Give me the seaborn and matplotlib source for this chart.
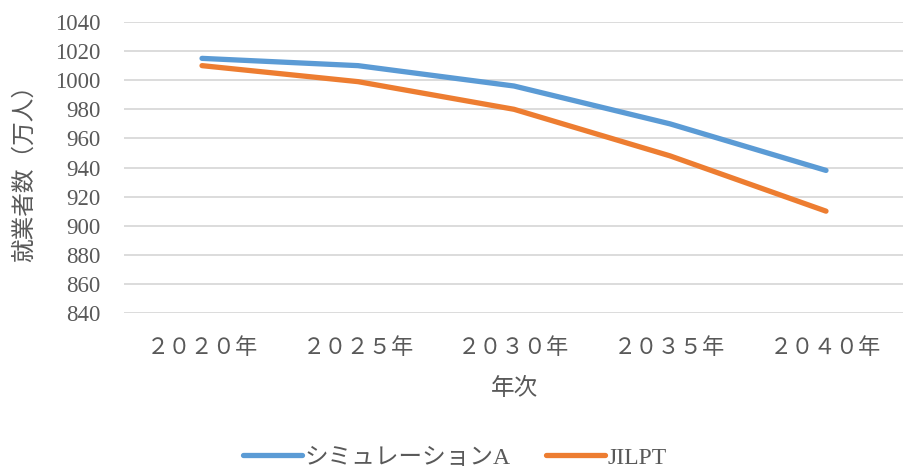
import matplotlib
matplotlib.use("Agg")
import matplotlib.pyplot as plt
import seaborn as sns
import pandas as pd
from matplotlib.lines import Line2D

years = ["２０２０年", "２０２５年", "２０３０年", "２０３５年", "２０４０年"]
sim_a = [1015, 1010, 996, 970, 938]
jilpt = [1010, 999, 980, 948, 910]
series_names = ["シミュレーションA", "JILPT"]
y_ticks = [840, 860, 880, 900, 920, 940, 960, 980, 1000, 1020, 1040]

df = pd.DataFrame({
    "年次": years * 2,
    "value": sim_a + jilpt,
    "series": [series_names[0]] * len(years) + [series_names[1]] * len(years),
})

sns.set_theme(style="white")
FAM = ["Liberation Serif", "Noto Sans CJK JP", "DejaVu Sans"]
plt.rcParams["font.family"] = FAM
TXT = "#595959"
COLORS = ["#5B9BD5", "#ED7D31"]

fig = plt.figure(figsize=(9.04, 4.76), dpi=100)
ax = fig.add_axes([0.1372, 0.3424, 0.8628, 0.6114])

sns.lineplot(data=df, x="年次", y="value", hue="series",
             palette=COLORS, linewidth=3.8, ax=ax,
             legend=False, sort=False)
for ln in ax.lines:
    ln.set_solid_capstyle("round")
    ln.set_solid_joinstyle("round")

ax.set_xlim(-0.5, len(years) - 0.5)
ax.set_ylim(840, 1040)
ax.set_yticks(y_ticks)
ax.set_yticklabels([str(v) for v in y_ticks], fontsize=16.5, color=TXT)
ax.set_xticks(range(len(years)))
ax.set_xticklabels(years, fontsize=16, color=TXT)
ax.tick_params(axis="y", length=0, pad=17)
ax.tick_params(axis="x", length=0, pad=18)
ax.grid(axis="y", color="#D9D9D9", linewidth=1.3)
ax.set_axisbelow(True)
for s in ax.spines.values():
    s.set_visible(False)

ax.set_xlabel("年次", fontsize=17, color=TXT, labelpad=14)
ax.set_ylabel("就業者数（万人）", fontsize=17, color=TXT)
ax.yaxis.set_label_coords(-0.113, 0.5)

handles = [Line2D([0], [0], color=c, lw=3.8, solid_capstyle="round") for c in COLORS]
fig.legend(handles, series_names, loc="center", bbox_to_anchor=(0.503, 0.038),
           ncol=2, frameon=False, fontsize=17, handlelength=2.5,
           handletextpad=0.1, columnspacing=1.5, labelcolor=TXT)

fig.savefig("out.png", dpi=100)
